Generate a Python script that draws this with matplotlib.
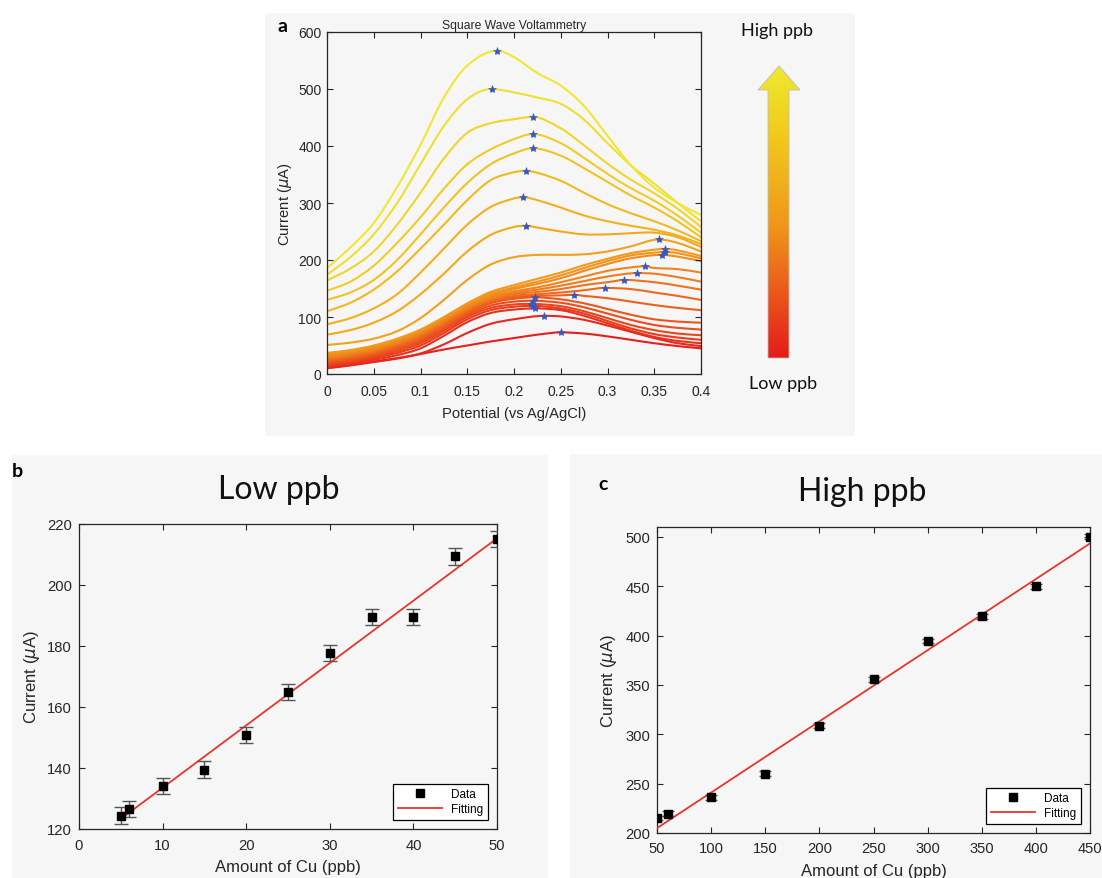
import numpy as np
import matplotlib
matplotlib.use("Agg")
import matplotlib.pyplot as plt
from matplotlib.colors import LinearSegmentedColormap
from matplotlib.patches import Rectangle, Polygon, PathPatch
from matplotlib.path import Path
from matplotlib.lines import Line2D

# ---------------- Panel a: square wave voltammograms ----------------
potential = [0.0, 0.025, 0.05, 0.075, 0.1, 0.125, 0.15, 0.175, 0.2,
             0.225, 0.25, 0.275, 0.3, 0.325, 0.35, 0.375, 0.4]
potential_ticks = [0, 0.05, 0.1, 0.15, 0.2, 0.25, 0.3, 0.35, 0.4]
potential_ticklabels = ["0", "0.05", "0.1", "0.15", "0.2", "0.25", "0.3", "0.35", "0.4"]

# current (uA) per scan, lowest to highest concentration
swv_L  = [10, 15, 21, 27, 35, 43, 50, 57, 63, 69, 72, 71, 66, 60, 54, 49, 45]
swv_M6 = [11, 16, 22, 28, 36, 52, 72, 88, 96, 101, 101, 95, 85, 74, 63, 54, 49]
swv_M5 = [13, 18, 25, 33, 45, 67, 91, 107, 113, 115, 112, 102, 89, 76, 65, 58, 54]
swv_M4 = [15, 20, 28, 37, 50, 72, 96, 112, 118, 119, 115, 106, 93, 80, 70, 64, 60]
swv_M3 = [17, 22, 30, 40, 54, 76, 100, 116, 122, 123, 119, 110, 98, 86, 77, 71, 68]
swv_M2 = [19, 24, 32, 43, 57, 79, 103, 120, 127, 128, 125, 117, 106, 95, 86, 81, 78]
swv_M1 = [21, 26, 34, 45, 60, 82, 106, 124, 132, 134, 131, 124, 114, 104, 96, 92, 90]
swv_R8 = [23, 28, 36, 48, 63, 85, 108, 126, 135, 137, 138, 137, 133, 127, 121, 116, 112]
swv_R7 = [25, 30, 38, 50, 66, 88, 111, 128, 137, 140, 143, 147, 151, 149, 143, 137, 130]
swv_R6 = [27, 32, 40, 52, 68, 90, 113, 130, 140, 144, 149, 156, 161, 165, 161, 155, 148]
swv_R5 = [29, 34, 42, 54, 70, 92, 115, 132, 142, 148, 155, 163, 171, 177, 176, 170, 162]
swv_R4 = [31, 36, 44, 56, 72, 94, 117, 135, 145, 152, 161, 171, 181, 187, 186, 184, 178]
swv_R3 = [33, 38, 46, 58, 74, 96, 120, 138, 149, 158, 168, 181, 193, 203, 209, 206, 198]
swv_R2 = [35, 40, 48, 60, 76, 98, 122, 141, 152, 162, 173, 186, 198, 208, 213, 212, 203]
swv_R1 = [37, 42, 50, 62, 78, 100, 124, 144, 156, 167, 178, 191, 202, 212, 218, 217, 207]
swv_U9 = [51, 55, 62, 75, 98, 130, 165, 192, 205, 209, 209, 210, 215, 224, 234, 230, 215]
swv_U8 = [69, 77, 90, 110, 140, 176, 215, 244, 258, 257, 250, 245, 245, 247, 248, 240, 223]
swv_U7 = [87, 98, 115, 140, 178, 220, 262, 293, 308, 305, 292, 278, 268, 260, 253, 243, 228]
swv_U6 = [110, 125, 148, 180, 220, 262, 305, 340, 354, 353, 339, 318, 298, 282, 268, 252, 233]
swv_U5 = [130, 143, 165, 200, 245, 292, 335, 368, 387, 395, 383, 361, 337, 313, 292, 268, 240]
swv_U4 = [146, 162, 190, 230, 275, 325, 368, 394, 412, 420, 405, 379, 351, 326, 304, 278, 248]
swv_U3 = [164, 185, 215, 262, 318, 378, 423, 440, 447, 449, 431, 401, 369, 341, 317, 290, 258]
swv_U2 = [174, 205, 245, 300, 368, 435, 482, 500, 494, 485, 474, 446, 405, 366, 334, 300, 268]
swv_U1 = [186, 222, 265, 328, 402, 485, 541, 567, 556, 528, 506, 470, 418, 366, 327, 300, 279]

swv_scans = [swv_L, swv_M6, swv_M5, swv_M4, swv_M3, swv_M2, swv_M1,
             swv_R8, swv_R7, swv_R6, swv_R5, swv_R4, swv_R3, swv_R2, swv_R1,
             swv_U9, swv_U8, swv_U7, swv_U6, swv_U5, swv_U4, swv_U3, swv_U2, swv_U1]

# detected peak of each scan (potential, current)
peak_v = [0.25, 0.232, 0.222, 0.22, 0.218, 0.22, 0.222,
          0.264, 0.297, 0.318, 0.332, 0.34, 0.358, 0.362, 0.362,
          0.355, 0.213, 0.21, 0.213, 0.22, 0.22, 0.22, 0.176, 0.182]
peak_i = [73, 102, 115, 119.5, 123, 128.5, 134.5,
          139, 151, 165, 177, 189, 209, 214, 219.5,
          236, 260, 310, 356, 396, 421, 451, 500, 567]

# ---------------- Panel b: low concentration calibration ----------------
low_ppb = [5, 6, 10, 15, 20, 25, 30, 35, 40, 45, 50]
low_current = [124.4, 126.5, 134.1, 139.5, 150.8, 164.9, 177.7, 189.5, 189.5, 209.4, 215.1]
low_err = [2.7, 2.7, 2.7, 2.7, 2.7, 2.7, 2.7, 2.7, 2.7, 2.7, 2.7]
low_fit = (2.044, 113.1)       # slope, intercept

# ---------------- Panel c: high concentration calibration ----------------
high_ppb = [50, 60, 100, 150, 200, 250, 300, 350, 400, 450]
high_current = [215.2, 219.3, 236.2, 259.9, 308.9, 355.6, 394.5, 419.8, 449.9, 500.0]
high_err = [2.5, 2.5, 2.5, 2.5, 2.5, 2.5, 2.5, 2.5, 2.5, 2.5]
high_fit = (0.721, 168.9)      # slope, intercept

# ---------------- styling ----------------
plt.rcParams['font.family'] = ['Liberation Sans', 'DejaVu Sans']
TXT = '#262626'
PANEL_BG = '#f6f6f6'
LABEL_FONT = ['Lato', 'DejaVu Sans']
SERIF = ['Liberation Serif', 'DejaVu Serif']

W, H = 1102, 879
fig = plt.figure(figsize=(W / 100, H / 100), dpi=100)
fig.patch.set_facecolor('white')

# canvas layer in pixel units for panel backgrounds, letters and the arrow
bg = fig.add_axes([0, 0, 1, 1], zorder=0)
bg.set_xlim(0, W)
bg.set_ylim(H, 0)
bg.axis('off')
for (x0, y0, w, h) in [(265, 14, 590, 423), (12, 456, 536, 423), (570, 455, 532, 424)]:
    bg.add_patch(Rectangle((x0, y0), w, h, facecolor=PANEL_BG, edgecolor='none'))


def px_axes(left, top, right, bottom):
    return fig.add_axes([left / W, 1 - bottom / H, (right - left) / W, (bottom - top) / H], zorder=2)


def style(ax, size, xpad, ypad):
    ax.set_facecolor(PANEL_BG)
    for s in ax.spines.values():
        s.set_color(TXT)
        s.set_linewidth(0.9)
    ax.tick_params(direction='in', top=True, right=True, length=4, width=0.8,
                   colors=TXT, labelsize=size)
    ax.tick_params(axis='x', pad=xpad)
    ax.tick_params(axis='y', pad=ypad)


def smooth_path(xs, ys, flat_index):
    """Cubic Bezier path through the sampled points (Hermite tangents)."""
    xs = np.asarray(xs, float)
    ys = np.asarray(ys, float)
    m = np.empty_like(ys)
    m[1:-1] = (ys[2:] - ys[:-2]) / (xs[2:] - xs[:-2])
    m[0] = (ys[1] - ys[0]) / (xs[1] - xs[0])
    m[-1] = (ys[-1] - ys[-2]) / (xs[-1] - xs[-2])
    m[flat_index] = 0.0
    verts = [(xs[0], ys[0])]
    codes = [Path.MOVETO]
    for i in range(len(xs) - 1):
        h = xs[i + 1] - xs[i]
        verts += [(xs[i] + h / 3, ys[i] + m[i] * h / 3),
                  (xs[i + 1] - h / 3, ys[i + 1] - m[i + 1] * h / 3),
                  (xs[i + 1], ys[i + 1])]
        codes += [Path.CURVE4] * 3
    return Path(verts, codes)


# ---- panel a ----
axa = px_axes(327, 33, 701, 375)
style(axa, 10, 7, 4)
cmap = LinearSegmentedColormap.from_list(
    'heat', [(0.0, '#e61f1d'), (0.45, '#f07f1c'), (0.75, '#f2b21b'), (1.0, '#efe833')])
n = len(swv_scans)
for k, scan in enumerate(swv_scans):
    pts = dict(zip(potential, scan))
    near = [v for v in potential if abs(v - peak_v[k]) < 0.0085]
    for v in near:
        pts.pop(v)
    pts[peak_v[k]] = peak_i[k]
    xs = sorted(pts)
    path = smooth_path(xs, [pts[x] for x in xs], xs.index(peak_v[k]))
    axa.add_patch(PathPatch(path, facecolor='none', edgecolor=cmap(k / (n - 1)),
                            lw=1.5, capstyle='round', joinstyle='round'))
axa.plot(peak_v, peak_i, linestyle='none', marker='*', ms=6, color='#3558c0',
         markeredgewidth=0.4, zorder=5)
axa.set_xlim(0, 0.4)
axa.set_ylim(0, 600)
axa.set_xticks(potential_ticks)
axa.set_xticklabels(potential_ticklabels)
axa.set_yticks([0, 100, 200, 300, 400, 500, 600])
axa.set_xlabel('Potential (vs Ag/AgCl)', fontsize=10.6, color=TXT, labelpad=6)
axa.set_ylabel(r'Current ($\mu$A)', fontsize=10.6, color=TXT, labelpad=3)
axa.set_title('Square Wave Voltammetry', fontsize=8.7, color=TXT, pad=3)

# gradient arrow
arrow = Polygon([(768, 359), (789, 359), (789, 91), (800, 91), (779, 67),
                 (758, 91), (768, 91)], closed=True, facecolor='none',
                edgecolor='#bbbbbb', lw=0.6, zorder=3)
bg.add_patch(arrow)
grad = np.linspace(0, 1, 256).reshape(-1, 1)
arrow_cmap = LinearSegmentedColormap.from_list(
    'arrow', [(0.0, '#e51b1b'), (0.45, '#f0961a'), (0.75, '#f2c71c'), (1.0, '#eeea2e')])
im = bg.imshow(grad, cmap=arrow_cmap, extent=[758, 800, 359, 67], origin='lower',
               aspect='auto', zorder=2)
im.set_clip_path(arrow)
bg.set_xlim(0, W)
bg.set_ylim(H, 0)
bg.text(777, 31, 'High ppb', fontsize=13, family=LABEL_FONT, ha='center', va='center', color='#111111')
bg.text(783, 384, 'Low ppb', fontsize=13, family=LABEL_FONT, ha='center', va='center', color='#111111')
bg.text(283, 27, 'a', fontsize=14, fontweight='bold', family=LABEL_FONT, ha='center', va='center')


def calib_legend(ax):
    handles = [Line2D([], [], linestyle='none', marker='s', color='black', ms=5.5),
               Line2D([], [], color='#e8352b', lw=1.3)]
    leg = ax.legend(handles, ['Data', 'Fitting'], loc='lower right', fontsize=8.5,
                    frameon=True, fancybox=False, edgecolor='black', framealpha=1,
                    facecolor='white', handlelength=3.8, handletextpad=0.7,
                    borderaxespad=0.8, labelspacing=0.2, borderpad=0.4)
    leg.get_frame().set_linewidth(0.9)


# ---- panel b ----
axb = px_axes(79, 525, 497, 830)
style(axb, 10.6, 6.5, 5)
xb = np.array([low_ppb[0], low_ppb[-1]])
axb.plot(xb, low_fit[0] * xb + low_fit[1], color='#e8352b', lw=1.3, zorder=3)
axb.errorbar(low_ppb, low_current, yerr=low_err, fmt='s', color='black', ms=5.5,
             ecolor='#555555', elinewidth=1, capsize=5, capthick=1, zorder=4)
axb.set_xlim(0, 50)
axb.set_ylim(120, 220)
axb.set_xticks([0, 10, 20, 30, 40, 50])
axb.set_yticks([120, 140, 160, 180, 200, 220])
axb.set_xlabel('Amount of Cu (ppb)', fontsize=12, color=TXT, labelpad=5)
axb.set_ylabel(r'Current ($\mu$A)', fontsize=12, color=TXT, labelpad=4)
calib_legend(axb)
bg.text(279, 490, 'Low ppb', fontsize=23, family=LABEL_FONT, ha='center', va='center', color='#111111')
bg.text(17, 472, 'b', fontsize=14, fontweight='bold', family=LABEL_FONT, ha='center', va='center')
bg.text(160, 641, 'R²', fontsize=20, family=SERIF, ha='left', va='center', color='#111111')
bg.text(196, 641, '= 0.99', fontsize=19, family=LABEL_FONT, ha='left', va='center', color='#111111')

# ---- panel c ----
axc = px_axes(657, 528, 1090, 834)
style(axc, 10.6, 5.5, 5)
xc = np.array([high_ppb[0], high_ppb[-1]])
axc.plot(xc, high_fit[0] * xc + high_fit[1], color='#e8352b', lw=1.3, zorder=3)
axc.errorbar(high_ppb, high_current, yerr=high_err, fmt='s', color='black', ms=5.5,
             ecolor='#555555', elinewidth=1, capsize=4.5, capthick=1, zorder=4)
axc.set_xlim(50, 450)
axc.set_ylim(200, 510)
axc.set_xticks([50, 100, 150, 200, 250, 300, 350, 400, 450])
axc.set_yticks([200, 250, 300, 350, 400, 450, 500])
axc.set_xlabel('Amount of Cu (ppb)', fontsize=12, color=TXT, labelpad=6)
axc.set_ylabel(r'Current ($\mu$A)', fontsize=12, color=TXT, labelpad=4)
calib_legend(axc)
bg.text(862, 492, 'High ppb', fontsize=23, family=LABEL_FONT, ha='center', va='center', color='#111111')
bg.text(603, 485, 'c', fontsize=14, fontweight='bold', family=LABEL_FONT, ha='center', va='center')
bg.text(746, 638, 'R²', fontsize=20, family=SERIF, ha='left', va='center', color='#111111')
bg.text(781, 638, '= 0.99', fontsize=19, family=LABEL_FONT, ha='left', va='center', color='#111111')

fig.savefig('out.png', dpi=100, facecolor='white')
